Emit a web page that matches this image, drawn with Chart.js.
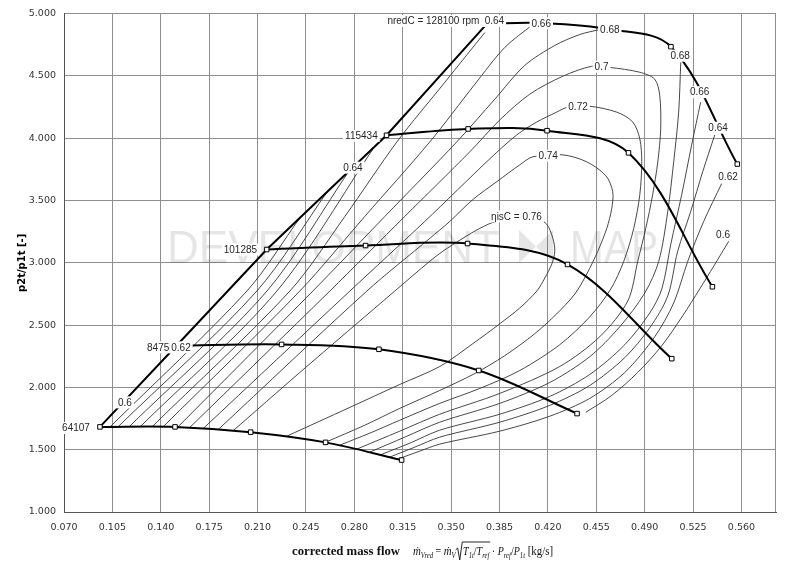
<!DOCTYPE html>
<html>
<head>
<meta charset="utf-8">
<title>Compressor map</title>
<script src="https://cdn.jsdelivr.net/npm/chart.js@4.4.1/dist/chart.umd.min.js"></script>
<style>
  html, body { margin: 0; padding: 0; background: #fff; }
  canvas { display: block; }
</style>
</head>
<body>
<canvas id="compressorMap" width="800" height="581"></canvas>
<script>
// axis ticks
const xTicks = [0.070, 0.105, 0.140, 0.175, 0.210, 0.245, 0.280, 0.315, 0.350, 0.385, 0.420, 0.455, 0.490, 0.525, 0.560];
const yTicks = [1.0, 1.5, 2.0, 2.5, 3.0, 3.5, 4.0, 4.5, 5.0];

// speed lines [mass flow, pressure ratio]
const speed64107 = [[0.096, 1.683], [0.1503, 1.683], [0.205, 1.641], [0.2592, 1.559], [0.3142, 1.417]];
const speed84750 = [[0.1513, 2.335], [0.2274, 2.345], [0.2978, 2.306], [0.370, 2.136], [0.4411, 1.790]];
const speed101285 = [[0.2166, 3.107], [0.2881, 3.139], [0.3619, 3.155], [0.4342, 2.987], [0.5096, 2.231]];
const speed115434 = [[0.3033, 4.024], [0.3623, 4.075], [0.4194, 4.061], [0.4783, 3.883], [0.539, 2.808]];
const speed128100 = [[0.376, 4.92], [0.415, 4.925], [0.465, 4.875], [0.509, 4.735], [0.557, 3.793]];

// efficiency contours
const nearSurge1 = [[0.1033, 1.683], [0.2023, 2.774], [0.2409, 3.365]];
const nearSurge2 = [[0.109, 1.683], [0.2095, 2.774], [0.2605, 3.572]];
const nearSurge3 = [[0.117, 1.683], [0.2168, 2.774], [0.2768, 3.748]];
const nearSurge4 = [[0.125, 1.683], [0.224, 2.774], [0.2945, 3.931]];
const eff064Left = [[0.1336, 1.683], [0.2334, 2.774], [0.2732, 3.373], [0.3108, 3.971], [0.3455, 4.45], [0.3744, 4.849]];
const eff066Left = [[0.1416, 1.683], [0.2406, 2.774], [0.2876, 3.373], [0.3346, 3.971], [0.3672, 4.434], [0.3888, 4.729], [0.4091, 4.913]];
const eff068Left = [[0.1524, 1.683], [0.25, 2.774], [0.3021, 3.373], [0.3541, 3.971], [0.3816, 4.314], [0.4033, 4.585], [0.425, 4.745], [0.4431, 4.833], [0.4575, 4.873]];
const eff070 = [[0.1611, 1.68], [0.2623, 2.774], [0.3165, 3.373], [0.3635, 3.891], [0.3852, 4.147], [0.4069, 4.354], [0.4308, 4.498], [0.4517, 4.578], [0.464, 4.57], [0.4865, 4.53], [0.4973, 4.474], [0.5009, 4.346], [0.5016, 4.075], [0.4995, 3.811], [0.4958, 3.548], [0.4908, 3.277], [0.485, 3.013], [0.4778, 2.694], [0.4575, 2.407], [0.4286, 2.168], [0.3852, 1.952], [0.3418, 1.785], [0.3129, 1.649], [0.2818, 1.505]];
const eff072 = [[0.1705, 1.668], [0.2768, 2.774], [0.331, 3.333], [0.378, 3.835], [0.3975, 4.027], [0.412, 4.131], [0.4264, 4.21], [0.4344, 4.25], [0.4496, 4.258], [0.4698, 4.21], [0.4814, 4.131], [0.4865, 3.995], [0.4879, 3.811], [0.4865, 3.548], [0.4821, 3.277], [0.4749, 3.013], [0.4655, 2.79], [0.4503, 2.567], [0.4286, 2.343], [0.3997, 2.136], [0.3708, 1.992], [0.3418, 1.872], [0.3129, 1.737], [0.2912, 1.633], [0.2696, 1.537]];
const eff074 = [[0.1813, 1.659], [0.2891, 2.774], [0.3346, 3.197], [0.3491, 3.333], [0.3657, 3.508], [0.3831, 3.652], [0.3997, 3.787], [0.4091, 3.851], [0.4308, 3.867], [0.4481, 3.811], [0.4619, 3.7], [0.4669, 3.572], [0.4662, 3.436], [0.4626, 3.277], [0.4561, 3.093], [0.4481, 2.91], [0.4395, 2.75], [0.4264, 2.591], [0.4105, 2.431], [0.3888, 2.255], [0.3672, 2.112], [0.3418, 1.976], [0.3129, 1.832], [0.2876, 1.697], [0.2594, 1.561]];
const eff076 = [[0.1922, 1.651], [0.2406, 2.12], [0.3093, 2.774], [0.3346, 3.013], [0.344, 3.093], [0.3585, 3.197], [0.3708, 3.277], [0.3831, 3.333], [0.4127, 3.349], [0.4192, 3.309], [0.4236, 3.197], [0.425, 3.093], [0.4228, 2.99], [0.4178, 2.878], [0.412, 2.774], [0.3997, 2.638], [0.3852, 2.511], [0.3657, 2.351], [0.3418, 2.168], [0.3129, 2.024], [0.2768, 1.84], [0.2312, 1.609]];
const eff068Right = [[0.5161, 4.609], [0.5146, 4.21], [0.511, 3.811], [0.5067, 3.412], [0.5002, 3.013], [0.4901, 2.758], [0.472, 2.487], [0.4503, 2.247], [0.4214, 2.04], [0.3852, 1.872], [0.3418, 1.721], [0.3165, 1.601], [0.2912, 1.481]];
const eff066Right = [[0.5305, 4.29], [0.524, 3.947], [0.5168, 3.548], [0.5089, 3.149], [0.5024, 2.79], [0.4937, 2.598], [0.4756, 2.343], [0.4503, 2.104], [0.4214, 1.928], [0.3852, 1.785], [0.3418, 1.657], [0.3202, 1.553], [0.2985, 1.457]];
const eff064Right = [[0.5407, 4.027], [0.532, 3.732], [0.5233, 3.412], [0.5139, 3.093], [0.5067, 2.734], [0.4937, 2.479], [0.4756, 2.239], [0.4503, 2.016], [0.4214, 1.856], [0.3852, 1.721], [0.3418, 1.601], [0.3238, 1.521], [0.3057, 1.441]];
const eff062Right = [[0.5457, 3.636], [0.5327, 3.333], [0.5212, 3.013], [0.511, 2.678], [0.4973, 2.407], [0.4756, 2.12], [0.4503, 1.912], [0.4214, 1.769], [0.3852, 1.649], [0.3418, 1.545], [0.3274, 1.489], [0.3115, 1.425]];
const eff060Right = [[0.5508, 3.173], [0.54, 2.974], [0.5298, 2.79], [0.5175, 2.575], [0.5024, 2.335], [0.485, 2.12], [0.4662, 1.936], [0.4474, 1.8]];

// labels on the map
const labelText = ['64107', '84750', '0.62', '0.6', '101285', '0.64', '115434', 'nredC = 128100 rpm', '0.64', '0.66', '0.68', '0.68', '0.66', '0.64', '0.62', '0.6', '0.7', '0.72', '0.74', 'ηisC = 0.76'];
const labelX = [0.0787, 0.1401, 0.1546, 0.1141, 0.1976, 0.279, 0.2851, 0.3372, 0.3813, 0.4152, 0.4648, 0.5157, 0.5298, 0.5431, 0.5503, 0.5467, 0.4588, 0.4418, 0.4202, 0.3973];
const labelY = [1.675, 2.322, 2.322, 1.88, 3.107, 3.764, 4.019, 4.942, 4.942, 4.923, 4.875, 4.663, 4.37, 4.085, 3.692, 3.227, 4.575, 4.256, 3.859, 3.373];

const toPts = arr => arr.map(p => ({ x: p[0], y: p[1] }));

const speedLines = [speed64107, speed84750, speed101285, speed115434, speed128100];
const surgeLine = speedLines.map(s => s[0]);
const contours = [nearSurge1, nearSurge2, nearSurge3, nearSurge4, eff064Left, eff066Left, eff068Left,
  eff070, eff072, eff074, eff076, eff068Right, eff066Right, eff064Right, eff062Right, eff060Right];

const datasets = [];
// squares on the speed lines (first dataset is drawn on top)
datasets.push({
  data: toPts(speedLines.flat()),
  showLine: false,
  pointStyle: 'rect',
  pointRadius: 3.2,
  pointBorderColor: '#000',
  pointBackgroundColor: '#fff',
  pointBorderWidth: 1
});
speedLines.forEach(s => datasets.push({
  data: toPts(s), showLine: true, borderColor: '#000', borderWidth: 2, tension: 0.35, pointRadius: 0
}));
datasets.push({
  data: toPts(surgeLine), showLine: true, borderColor: '#000', borderWidth: 2, tension: 0, pointRadius: 0
});
contours.forEach(c => datasets.push({
  data: toPts(c), showLine: true, borderColor: '#333', borderWidth: 0.9, tension: 0.3, pointRadius: 0
}));

const sansFont = '"Liberation Sans", Arial, sans-serif';
const serifFont = '"Liberation Serif", "DejaVu Serif", serif';

function drawFormula(ctx, x0, baseY, targetW) {
  // [text, font, baseline shift, flag]
  const runs = [
    ['ṁ', 'italic 13px', 0],
    ['Vred', 'italic 8px', 3],
    [' = ', '12px', 0],
    ['ṁ', 'italic 13px', 0],
    ['V', 'italic 8px', 3],
    ['', '12px', 0, 'root'],
    ['T', 'italic 12px', 0, 'bar'],
    ['1t', 'italic 8px', 3, 'bar'],
    ['/', '12px', 0, 'bar'],
    ['T', 'italic 12px', 0, 'bar'],
    ['ref', 'italic 8px', 3, 'bar'],
    [' · ', '12px', 0],
    ['P', 'italic 12px', 0],
    ['ref', 'italic 8px', 3],
    ['/', '12px', 0],
    ['P', 'italic 12px', 0],
    ['1t', 'italic 8px', 3],
    [' [kg/s]', '13px', 0]
  ];
  const rootW = 9;
  let total = 0;
  runs.forEach(r => {
    ctx.font = r[1] + ' ' + serifFont;
    r.w = r[3] === 'root' ? rootW : ctx.measureText(r[0]).width;
    total += r.w;
  });
  const sx = Math.min(1, targetW / total);
  ctx.save();
  ctx.translate(x0, 0);
  ctx.scale(sx, 1);
  let x = 0;
  let barEnd = 0, rootX = 0;
  ctx.fillStyle = '#111';
  ctx.textBaseline = 'alphabetic';
  ctx.textAlign = 'left';
  runs.forEach(r => {
    if (r[3] === 'root') {
      rootX = x;
    } else {
      ctx.font = r[1] + ' ' + serifFont;
      ctx.fillText(r[0], x, baseY + r[2]);
      if (r[3] === 'bar') barEnd = x + r.w;
    }
    x += r.w;
  });
  const topY = baseY - 13;
  ctx.strokeStyle = '#111';
  ctx.lineWidth = 1;
  ctx.beginPath();
  ctx.moveTo(rootX, baseY - 5);
  ctx.lineTo(rootX + 2.5, baseY - 7);
  ctx.lineTo(rootX + 5, baseY + 5);
  ctx.lineTo(rootX + 8, topY);
  ctx.lineTo(barEnd + 1, topY);
  ctx.stroke();
  ctx.restore();
}

const mapDecor = {
  id: 'mapDecor',
  beforeDatasetsDraw(chart) {
    const ctx = chart.ctx;
    const a = chart.chartArea;
    ctx.save();
    // right frame
    ctx.strokeStyle = '#8f8f8f';
    ctx.lineWidth = 1;
    ctx.beginPath();
    ctx.moveTo(a.right - 0.5, a.top);
    ctx.lineTo(a.right - 0.5, a.bottom);
    ctx.stroke();
    // watermark
    ctx.fillStyle = 'rgba(0,0,0,0.1)';
    ctx.font = '46px ' + sansFont;
    ctx.textBaseline = 'alphabetic';
    ctx.fillText('DEVELOPMENT', 167, 263, 333);
    ctx.fillText('MAP', 570, 263, 88);
    ctx.beginPath();
    ctx.moveTo(519, 230); ctx.lineTo(519, 263); ctx.lineTo(536, 246.5); ctx.closePath();
    ctx.moveTo(553, 230); ctx.lineTo(553, 263); ctx.lineTo(536, 246.5); ctx.closePath();
    ctx.fill();
    ctx.restore();
  },
  afterDatasetsDraw(chart) {
    const ctx = chart.ctx;
    const xs = chart.scales.x, ys = chart.scales.y;
    ctx.save();
    ctx.font = '10px ' + sansFont;
    ctx.textAlign = 'center';
    ctx.textBaseline = 'middle';
    labelText.forEach((t, i) => {
      const px = xs.getPixelForValue(labelX[i]);
      const py = ys.getPixelForValue(labelY[i]);
      const w = ctx.measureText(t).width;
      ctx.fillStyle = '#fff';
      ctx.fillRect(px - w / 2 - 2, py - 6, w + 4, 12);
      ctx.fillStyle = '#262626';
      ctx.fillText(t, px, py + 0.5);
    });
    ctx.restore();
  },
  afterDraw(chart) {
    const ctx = chart.ctx;
    const a = chart.chartArea;
    const left = (a.left + a.right) / 2 - 128;
    ctx.save();
    ctx.fillStyle = '#111';
    ctx.textAlign = 'left';
    ctx.textBaseline = 'alphabetic';
    ctx.font = 'bold 13px ' + serifFont;
    ctx.fillText('corrected mass flow', left, 555, 108);
    drawFormula(ctx, left + 121, 555, 140);
    ctx.restore();
  }
};

const tickFont = { family: '"DejaVu Sans", Verdana, sans-serif', size: 9.5 };

const ctx1 = document.getElementById('compressorMap').getContext('2d');
const compressorMap = new Chart(ctx1, {
  type: 'scatter',
  data: { datasets: datasets },
  options: {
    responsive: false,
    animation: false,
    layout: { padding: { top: 11, right: 24, left: 0, bottom: 0 } },
    plugins: {
      legend: { display: false },
      tooltip: { enabled: false }
    },
    scales: {
      x: {
        type: 'linear',
        min: 0.07,
        max: 0.585,
        afterBuildTicks: scale => { scale.ticks = xTicks.map(v => ({ value: v })); },
        afterFit: scale => { scale.height = 69; },
        ticks: {
          callback: v => Number(v).toFixed(3),
          font: tickFont,
          color: '#333',
          padding: 10,
          autoSkip: false,
          maxRotation: 0
        },
        grid: { color: '#8f8f8f', drawTicks: false },
        border: { color: '#555' }
      },
      y: {
        type: 'linear',
        min: 1,
        max: 5,
        afterBuildTicks: scale => { scale.ticks = yTicks.map(v => ({ value: v })); },
        afterFit: scale => { scale.width = 64; },
        ticks: {
          callback: v => Number(v).toFixed(3),
          font: tickFont,
          color: '#333',
          padding: 8,
          autoSkip: false
        },
        grid: { color: '#8f8f8f', drawTicks: false },
        border: { color: '#555' },
        title: {
          display: true,
          text: 'p2t/p1t [-]',
          font: { family: '"DejaVu Sans", Verdana, sans-serif', size: 10, weight: 'bold' },
          color: '#000',
          padding: { top: 16, bottom: 0 }
        }
      }
    }
  },
  plugins: [mapDecor]
});
</script>
</body>
</html>
